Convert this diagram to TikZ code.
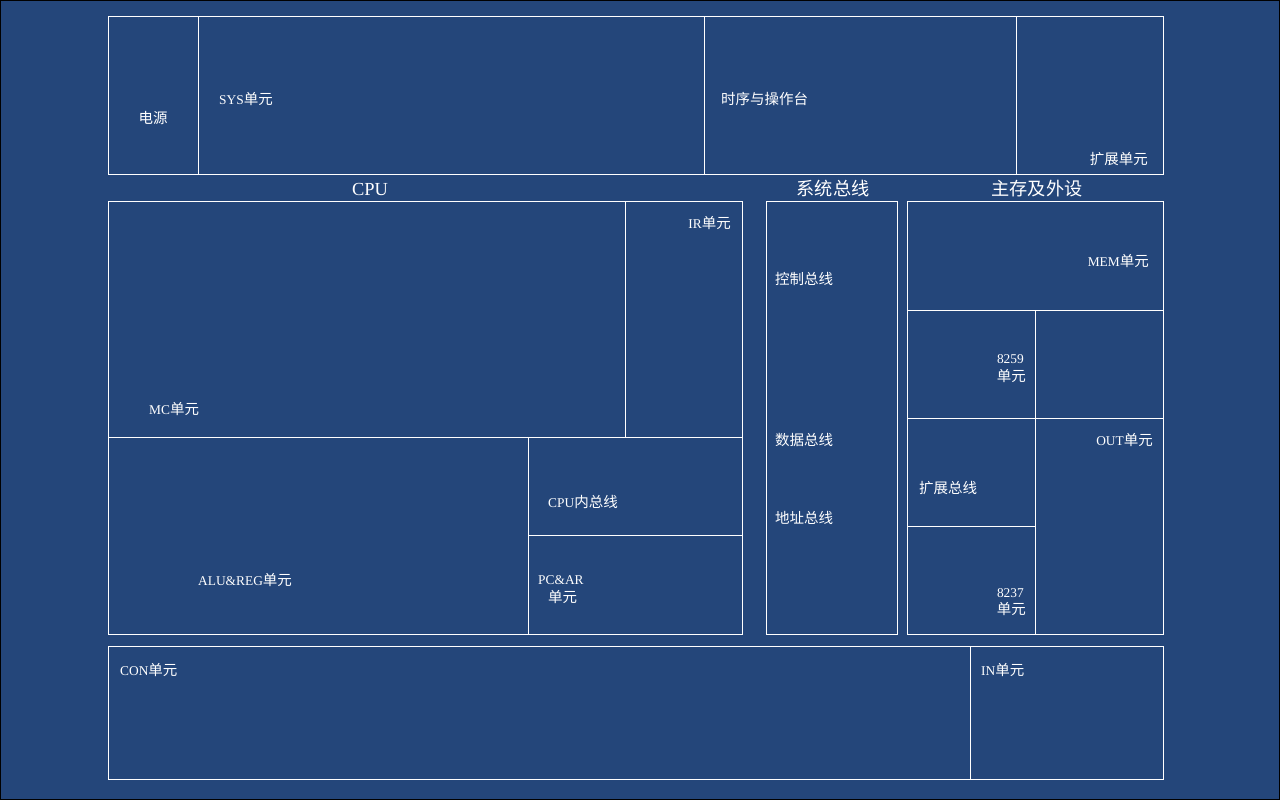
\documentclass[tikz,border=0pt]{standalone}
\usepackage{fontspec}
\setmainfont{Liberation Serif}
\newfontfamily\cjk{Noto Sans CJK SC}
\newcommand\zh[1]{{\cjk\fontsize{14.5}{15}\selectfont #1}}
\newcommand\zhh[1]{{\cjk\fontsize{18.2}{19}\selectfont #1}}
\definecolor{bg}{HTML}{24467A}
\begin{document}
\begin{tikzpicture}[x=1pt,y=-1pt,
  box/.style={draw=white,line width=1pt},
  lbl/.style={text=white,inner sep=0pt,font=\fontsize{13.4}{14}\selectfont},
  hdr/.style={text=white,inner sep=0pt,font=\fontsize{18.4}{19}\selectfont}]
\fill[bg] (0,0) rectangle (1280,800);
\draw[black,line width=1pt] (0.5,0.5) rectangle (1279.5,799.5);
\useasboundingbox (0,0) rectangle (1280,800);
% top row
\draw[box] (108,17) rectangle (198,174);
\draw[box] (198,17) rectangle (704,174);
\draw[box] (704,17) rectangle (1016,174);
\draw[box] (1016,17) rectangle (1163,174);
% CPU
\draw[box] (108,201) rectangle (625,437);
\draw[box] (625,201) rectangle (742,437);
\draw[box] (108,437) rectangle (528,634);
\draw[box] (528,437) rectangle (742,535);
\draw[box] (528,535) rectangle (742,634);
% system bus
\draw[box] (766,201) rectangle (897,634);
% memory and peripherals
\draw[box] (907,201) rectangle (1163,310);
\draw[box] (907,310) rectangle (1035,418);
\draw[box] (1035,310) rectangle (1163,418);
\draw[box] (907,418) rectangle (1035,526);
\draw[box] (907,526) rectangle (1035,634);
\draw[box] (1035,418) rectangle (1163,634);
% bottom
\draw[box] (108,646) rectangle (970,779);
\draw[box] (970,646) rectangle (1163,779);
% headers
\node[hdr] (hcpu) at (370,189) {CPU};
\node[hdr] (hbus) at (833,189) {\zhh{系统总线}};
\node[hdr] (hmem) at (1037,189) {\zhh{主存及外设}};
% labels
\node[lbl] (power) at (153,118) {\zh{电源}};
\node[lbl,anchor=west] (sys) at (219,99) {SYS\zh{单元}};
\node[lbl,anchor=west] (timing) at (721,99) {\zh{时序与操作台}};
\node[lbl,anchor=east] (ext) at (1148,159) {\zh{扩展单元}};
\node[lbl,anchor=east] (ir) at (731,223) {IR\zh{单元}};
\node[lbl,anchor=west] (mc) at (149,409) {MC\zh{单元}};
\node[lbl,anchor=west] (alu) at (198,580) {ALU\&REG\zh{单元}};
\node[lbl,anchor=west] (cpubus) at (548,502) {CPU\zh{内总线}};
\node[lbl,anchor=west] (pcar) at (538,580) {PC\&AR};
\node[lbl,anchor=west] (pcar2) at (548,597) {\zh{单元}};
\node[lbl,anchor=west] (ctrl) at (775,279) {\zh{控制总线}};
\node[lbl,anchor=west] (data) at (775,440) {\zh{数据总线}};
\node[lbl,anchor=west] (addr) at (775,518) {\zh{地址总线}};
\node[lbl,anchor=east] (mem) at (1149,261) {MEM\zh{单元}};
\node[lbl,anchor=east] (i8259) at (1024,359) {8259};
\node[lbl,anchor=east] (i8259b) at (1026,376) {\zh{单元}};
\node[lbl,anchor=east] (out) at (1153,440) {OUT\zh{单元}};
\node[lbl,anchor=west] (extbus) at (919,488) {\zh{扩展总线}};
\node[lbl,anchor=east] (i8237) at (1024,593) {8237};
\node[lbl,anchor=east] (i8237b) at (1026,609) {\zh{单元}};
\node[lbl,anchor=west] (con) at (120,670) {CON\zh{单元}};
\node[lbl,anchor=west] (in) at (981,670) {IN\zh{单元}};
\end{tikzpicture}
\end{document}
